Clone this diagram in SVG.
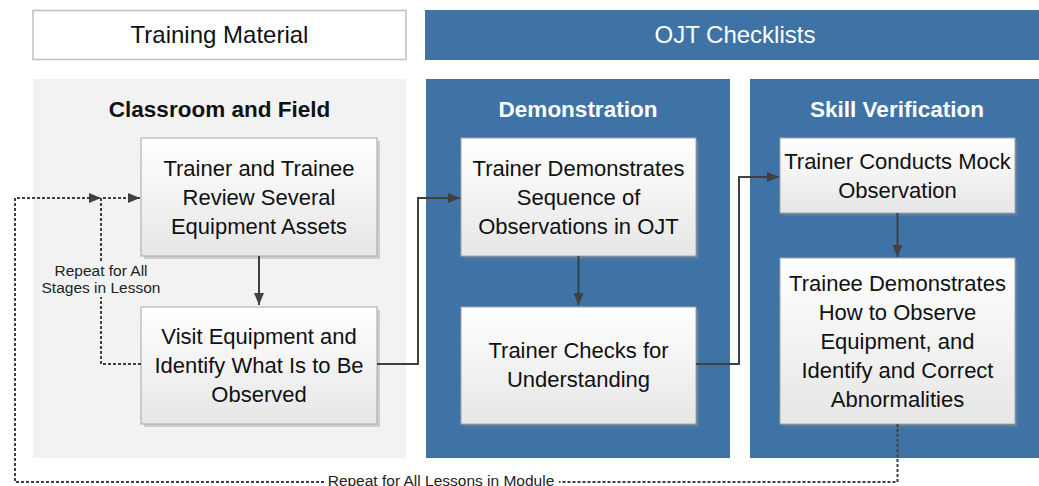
<svg xmlns="http://www.w3.org/2000/svg" width="1039" height="486" viewBox="0 0 1039 486">
  <defs>
    <linearGradient id="boxFill" x1="0" y1="0" x2="0" y2="1">
      <stop offset="0" stop-color="#ffffff"/>
      <stop offset="1" stop-color="#e6e6e6"/>
    </linearGradient>
    <marker id="arrow" viewBox="0 0 12 10" refX="12" refY="5" markerWidth="12" markerHeight="10" markerUnits="userSpaceOnUse" orient="auto">
      <path d="M0,0 L12,5 L0,10 Z" fill="#404040"/>
    </marker>
    <style>
      text { font-family: "Liberation Sans", Arial, sans-serif; }
      .banner-light { fill: #ffffff; stroke: #bfbfbf; stroke-width: 1.5; }
      .banner-blue { fill: #3f73a6; }
      .panel-gray { fill: #f2f2f2; }
      .panel-blue { fill: #3f73a6; }
      .banner-text { font-size: 24px; text-anchor: middle; }
      .panel-title { font-size: 22.5px; font-weight: bold; text-anchor: middle; }
      .shadow { fill: #8c8c8c; opacity: 0.35; }
      .box { fill: url(#boxFill); stroke: #a6a6a6; stroke-width: 1; }
      .box-text { font-size: 22px; fill: #111111; text-anchor: middle; }
      .flow { fill: none; stroke: #404040; stroke-width: 2; }
      .loop { fill: none; stroke: #404040; stroke-width: 2; stroke-dasharray: 3 2; }
      .loop-label { font-size: 15.5px; fill: #222222; text-anchor: middle; }
    </style>
  </defs>

  <!-- top banners -->
  <g id="training-material">
    <rect class="banner-light" x="33" y="10.5" width="373" height="49"/>
    <text class="banner-text" x="219.5" y="43" fill="#111111">Training Material</text>
  </g>
  <g id="ojt-checklists">
    <rect class="banner-blue" x="425" y="10" width="614" height="50"/>
    <text class="banner-text" x="735" y="43" fill="#ffffff">OJT Checklists</text>
  </g>

  <!-- stage panels -->
  <g id="classroom-field">
    <rect class="panel-gray" x="33" y="79" width="373" height="379"/>
    <text class="panel-title" x="219.5" y="117" fill="#111111">Classroom and Field</text>
  </g>
  <g id="demonstration">
    <rect class="panel-blue" x="426" y="79" width="304" height="379"/>
    <text class="panel-title" x="578" y="117" fill="#ffffff">Demonstration</text>
  </g>
  <g id="skill-verification">
    <rect class="panel-blue" x="750" y="79" width="289" height="379"/>
    <text class="panel-title" x="897" y="117" fill="#ffffff">Skill Verification</text>
  </g>

  <!-- step boxes -->
  <g id="review-assets">
    <rect class="shadow" x="144" y="141" width="236" height="118"/>
    <rect class="box" x="141" y="138" width="236" height="118"/>
    <text class="box-text" x="259" y="176">Trainer and Trainee</text>
    <text class="box-text" x="259" y="205">Review Several</text>
    <text class="box-text" x="259" y="234">Equipment Assets</text>
  </g>
  <g id="visit-equipment">
    <rect class="shadow" x="144" y="310" width="236" height="117"/>
    <rect class="box" x="141" y="307" width="236" height="117"/>
    <text class="box-text" x="259" y="344">Visit Equipment and</text>
    <text class="box-text" x="259" y="373">Identify What Is to Be</text>
    <text class="box-text" x="259" y="402">Observed</text>
  </g>
  <g id="trainer-demonstrates">
    <rect class="shadow" x="464" y="141" width="235" height="118"/>
    <rect class="box" x="461" y="138" width="235" height="118"/>
    <text class="box-text" x="578.5" y="176">Trainer Demonstrates</text>
    <text class="box-text" x="578.5" y="205">Sequence of</text>
    <text class="box-text" x="578.5" y="234">Observations in OJT</text>
  </g>
  <g id="trainer-checks">
    <rect class="shadow" x="464" y="310" width="235" height="117"/>
    <rect class="box" x="461" y="307" width="235" height="117"/>
    <text class="box-text" x="578.5" y="358">Trainer Checks for</text>
    <text class="box-text" x="578.5" y="387">Understanding</text>
  </g>
  <g id="mock-observation">
    <rect class="shadow" x="783" y="141" width="235" height="75"/>
    <rect class="box" x="780" y="138" width="235" height="75"/>
    <text class="box-text" x="897.5" y="169">Trainer Conducts Mock</text>
    <text class="box-text" x="897.5" y="198">Observation</text>
  </g>
  <g id="trainee-demonstrates">
    <rect class="shadow" x="783" y="261" width="235" height="166"/>
    <rect class="box" x="780" y="258" width="235" height="166"/>
    <text class="box-text" x="897.5" y="291">Trainee Demonstrates</text>
    <text class="box-text" x="897.5" y="320">How to Observe</text>
    <text class="box-text" x="897.5" y="349">Equipment, and</text>
    <text class="box-text" x="897.5" y="378">Identify and Correct</text>
    <text class="box-text" x="897.5" y="407">Abnormalities</text>
  </g>

  <!-- connectors -->
  <g id="connectors">
    <path class="flow" d="M259,256 V305" marker-end="url(#arrow)"/>
    <path class="flow" d="M578.5,256 V305" marker-end="url(#arrow)"/>
    <path class="flow" d="M897.5,213 V257" marker-end="url(#arrow)"/>
    <path class="flow" d="M377,364 H418 V198 H460" marker-end="url(#arrow)"/>
    <path class="flow" d="M696,364 H739 V177 H779" marker-end="url(#arrow)"/>

    <!-- repeat loop: stages within a lesson -->
    <path class="loop" d="M141,364 H101 V297"/>
    <path class="loop" d="M101,261 V198 H140" marker-end="url(#arrow)"/>
    <text class="loop-label" x="101" y="276">Repeat for All</text>
    <text class="loop-label" x="101" y="293">Stages in Lesson</text>

    <!-- repeat loop: lessons within the module -->
    <path class="loop" d="M897.5,424 V482 H559"/>
    <path class="loop" d="M324,482 H15 V198 H101" marker-end="url(#arrow)"/>
    <text class="loop-label" x="441" y="486" font-size="17px">Repeat for All Lessons in Module</text>
  </g>
</svg>
